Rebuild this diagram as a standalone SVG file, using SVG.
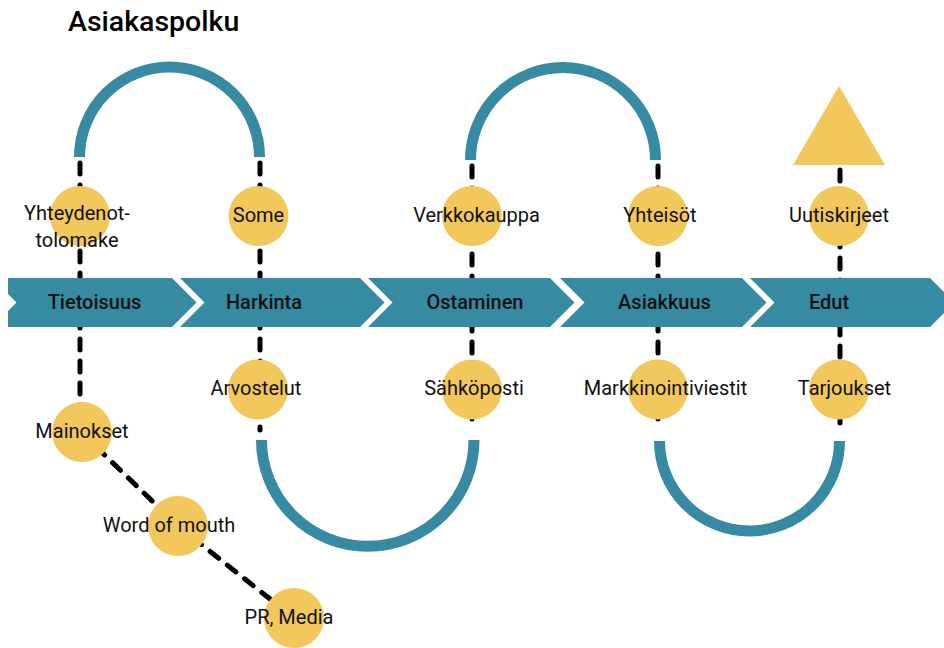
<svg xmlns="http://www.w3.org/2000/svg" width="944" height="648" viewBox="0 0 944 648">
<style>
.arc{fill:none;stroke:#368aa1;stroke-width:11}
.dash{fill:none;stroke:#000;stroke-width:5;stroke-dasharray:11 11;stroke-linecap:round}
.seg{fill:#368aa1}
.dot{fill:#f2c75c}
.lbl{font-family:Roboto,"Liberation Sans",sans-serif;font-size:20px;fill:#111;text-anchor:middle}
.stage{font-family:Roboto,"Liberation Sans",sans-serif;font-size:20px;font-weight:500;fill:#111;text-anchor:middle}
.title{font-family:Roboto,"Liberation Sans",sans-serif;font-size:28.5px;font-weight:500;fill:#000}
</style>
<rect width="944" height="648" fill="#fff"/>
<text class="title" x="68" y="31">Asiakaspolku</text>
<g id="connectors">
<path class="arc" d="M79.5,157 A90,90 0 0 1 259.5,157"/>
<path class="arc" d="M470.5,160 A92.5,92.5 0 0 1 655.5,160"/>
<path class="arc" d="M261.5,440 A106.25,106.25 0 0 0 474,440"/>
<path class="arc" d="M659.5,441 A90,90 0 0 0 839.5,441"/>
<line class="dash" x1="80" y1="163" x2="80" y2="432"/>
<polyline class="dash" points="81,432 178,526 294,618"/>
<line class="dash" x1="260" y1="163" x2="260" y2="430"/>
<line class="dash" x1="472" y1="166" x2="472" y2="430"/>
<line class="dash" x1="658" y1="166" x2="658" y2="430"/>
<line class="dash" x1="840" y1="170" x2="840" y2="430"/>
</g>
<g id="stage-tietoisuus"><polygon class="seg" points="8,278 172,278 196.5,302.5 172,327 8,327 8,311 16.5,302.5 8,294"/><text class="stage" x="94.5" y="309">Tietoisuus</text></g>
<g id="stage-harkinta"><polygon class="seg" points="180,278 360,278 384.5,302.5 360,327 180,327 204.5,302.5"/><text class="stage" x="264" y="309">Harkinta</text></g>
<g id="stage-ostaminen"><polygon class="seg" points="368,278 550,278 574.5,302.5 550,327 368,327 392.5,302.5"/><text class="stage" x="475" y="309">Ostaminen</text></g>
<g id="stage-asiakkuus"><polygon class="seg" points="560,278 742,278 766.5,302.5 742,327 560,327 584.5,302.5"/><text class="stage" x="664.5" y="309">Asiakkuus</text></g>
<g id="stage-edut"><polygon class="seg" points="750,278 930,278 954.5,302.5 930,327 750,327 774.5,302.5"/><text class="stage" x="829" y="309">Edut</text></g>
<g id="goal"><polygon class="dot" points="839,86 885,165 793,165"/></g>
<g id="n-yhteydenottolomake"><circle class="dot" cx="80" cy="216" r="30"/><text class="lbl" x="77" y="220">Yhteydenot-</text><text class="lbl" x="77" y="247">tolomake</text></g>
<g id="n-some"><circle class="dot" cx="258.5" cy="216" r="30"/><text class="lbl" x="258.5" y="222">Some</text></g>
<g id="n-verkkokauppa"><circle class="dot" cx="472" cy="216" r="30"/><text class="lbl" x="476.5" y="222">Verkkokauppa</text></g>
<g id="n-yhteisot"><circle class="dot" cx="658" cy="216" r="30"/><text class="lbl" x="660" y="222">Yhteisöt</text></g>
<g id="n-uutiskirjeet"><circle class="dot" cx="839" cy="216" r="30"/><text class="lbl" x="839" y="222">Uutiskirjeet</text></g>
<g id="n-arvostelut"><circle class="dot" cx="258" cy="389.5" r="30"/><text class="lbl" x="256" y="395">Arvostelut</text></g>
<g id="n-sahkoposti"><circle class="dot" cx="472" cy="389.5" r="30"/><text class="lbl" x="474" y="395">Sähköposti</text></g>
<g id="n-markkinointiviestit"><circle class="dot" cx="658" cy="389.5" r="30"/><text class="lbl" x="665.5" y="395">Markkinointiviestit</text></g>
<g id="n-tarjoukset"><circle class="dot" cx="839" cy="389.5" r="30"/><text class="lbl" x="844.5" y="395">Tarjoukset</text></g>
<g id="n-mainokset"><circle class="dot" cx="82" cy="432" r="30"/><text class="lbl" x="82" y="438">Mainokset</text></g>
<g id="n-wordofmouth"><circle class="dot" cx="178" cy="526" r="30"/><text class="lbl" x="169" y="532">Word of mouth</text></g>
<g id="n-prmedia"><circle class="dot" cx="294" cy="618" r="30"/><text class="lbl" x="289" y="624">PR, Media</text></g>
</svg>
